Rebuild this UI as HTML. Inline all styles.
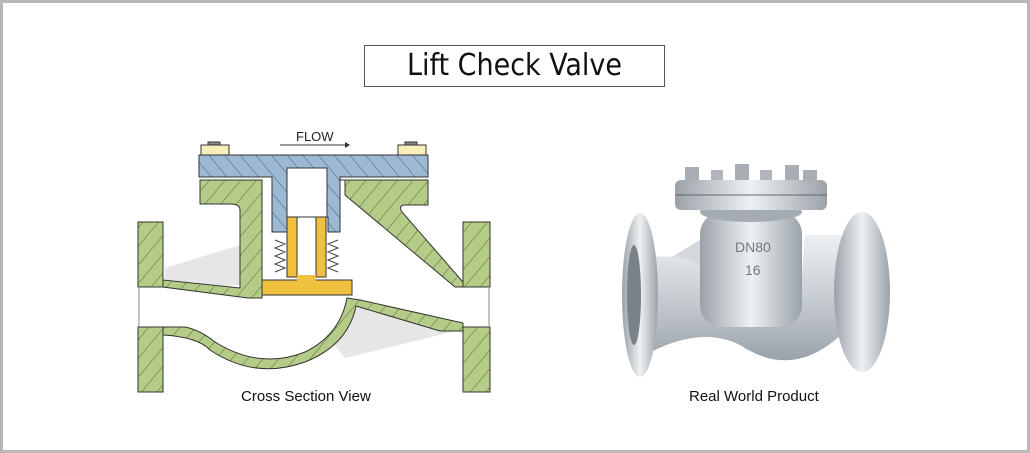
<!DOCTYPE html>
<html><head><style>
html,body{margin:0;padding:0;background:#fff}
.f{position:relative;width:1024px;height:447px;border:3px solid #b8b8b8;overflow:hidden;font-family:"Liberation Sans",sans-serif}
.t{position:absolute;left:361px;top:42px;width:299px;height:40px;border:1px solid #555;text-align:center;font-size:30px;line-height:40px;color:#111;font-family:"DejaVu Sans Condensed","Liberation Sans",sans-serif;font-weight:300}
.c{position:absolute;font-size:15px;color:#111}
</style></head><body><div class="f">
<div class="t">Lift Check Valve</div>
<div class="c" style="left:238px;top:385px">Cross Section View</div>
<div class="c" style="left:686px;top:385px">Real World Product</div>
<svg width="1024" height="447" style="position:absolute;left:0;top:0" viewBox="3 3 1024 447">
<defs>
<pattern id="h" width="12" height="12" patternUnits="userSpaceOnUse" patternTransform="rotate(40)"><rect width="12" height="12" fill="#b4cc88"/><line x1="0" y1="0" x2="0" y2="12" stroke="#556b30" stroke-width="1"/></pattern>
<pattern id="hb" width="12" height="12" patternUnits="userSpaceOnUse" patternTransform="rotate(-40)"><rect width="12" height="12" fill="#9db8d2"/><line x1="0" y1="0" x2="0" y2="12" stroke="#4a5f78" stroke-width="1"/></pattern>
<linearGradient id="m" x1="0" y1="0" x2="0" y2="1"><stop offset="0" stop-color="#eef1f3"/><stop offset=".5" stop-color="#c8cdd2"/><stop offset="1" stop-color="#9aa2a9"/></linearGradient>
<linearGradient id="mh" x1="0" y1="0" x2="1" y2="0"><stop offset="0" stop-color="#9aa2a9"/><stop offset=".5" stop-color="#eef1f3"/><stop offset="1" stop-color="#9aa2a9"/></linearGradient>
</defs>
<g stroke="#333" stroke-width="1">
<path d="M165 268 L240 245 L240 285 L165 288Z" fill="#e6e6e6" stroke="none"/>
<path d="M350 298 L460 330 L345 358 L330 340Z" fill="#e6e6e6" stroke="none"/>
<path d="M138 222 H163 V287 H138Z M138 327 H163 V392 H138Z" fill="url(#h)"/>
<path d="M463 222 H490 V287 H463Z M463 327 H490 V392 H463Z" fill="url(#h)"/>
<line x1="139" y1="287" x2="139" y2="327" stroke="#888"/><line x1="489" y1="287" x2="489" y2="327" stroke="#888"/>
<path d="M200 180 H262 V298 H248 L163 287 V280 L240 288 V210 Q240 204 230 204 H200Z" fill="url(#h)"/>
<path d="M340 180 H428 V205 H405 Q398 205 402 212 L463 282 V287 L455 287 L345 195 V180Z" fill="url(#h)"/>
<path d="M163 327 H185 Q200 330 215 342 Q260 370 305 352 Q340 335 347 298 L360 300 L463 323 V331 L440 331 L356 306 Q348 345 305 362 Q255 380 210 350 Q198 337 163 335Z" fill="url(#h)"/>
<path d="M199 155 H428 V177 H340 V232 H328 V217 H287 V232 H272 V177 H199Z" fill="url(#hb)"/>
<rect x="287" y="168" width="40" height="49" fill="#fff"/>
<rect x="201" y="145" width="28" height="10" fill="#f6eebb"/><rect x="398" y="145" width="28" height="10" fill="#f6eebb"/>
<rect x="208" y="142" width="12" height="3" fill="#888"/><rect x="405" y="142" width="12" height="3" fill="#888"/>
<rect x="287" y="217" width="10" height="60" fill="#f0c040"/><rect x="316" y="217" width="10" height="60" fill="#f0c040"/>
<rect x="262" y="280" width="90" height="15" fill="#f0c040"/>
<rect x="297" y="275" width="19" height="6" fill="#f0c040" stroke="none"/>
<path d="M275 240 l10 4 l-10 4 l10 4 l-10 4 l10 4 l-10 4 l10 4 l-10 4 M338 240 l-10 4 l10 4 l-10 4 l10 4 l-10 4 l10 4 l-10 4 l10 4" fill="none" stroke="#444"/>
</g>
<text x="296" y="141" font-size="13" font-family="Liberation Sans" fill="#222">FLOW</text>
<line x1="280" y1="145" x2="345" y2="145" stroke="#333"/><path d="M345 142 L350 145 L345 148Z" fill="#333"/>
<g>
<path d="M650 270 L700 240 L720 250 L670 290Z" fill="#d4d8dc"/>
<path d="M770 330 L800 305 L830 330 L790 340Z" fill="#d4d8dc"/>
<path d="M645 258 Q700 250 720 285 Q760 335 800 300 L805 235 L860 235 L855 320 Q800 385 740 345 Q700 325 645 355Z" fill="url(#m)"/>
<rect x="700" y="212" width="102" height="115" rx="22" fill="url(#mh)"/>
<ellipse cx="751" cy="212" rx="51" ry="10" fill="#a4abb2"/>
<rect x="675" y="180" width="152" height="30" rx="6" fill="url(#mh)"/>
<line x1="675" y1="195" x2="827" y2="195" stroke="#666"/>
<rect x="685" y="167" width="14" height="13" fill="#a8aeb4"/><rect x="711" y="170" width="12" height="10" fill="#b0b6bb"/><rect x="735" y="164" width="14" height="16" fill="#a8aeb4"/><rect x="760" y="170" width="12" height="10" fill="#b0b6bb"/><rect x="785" y="165" width="14" height="15" fill="#a8aeb4"/><rect x="803" y="170" width="14" height="11" fill="#a8aeb4"/>
<ellipse cx="640" cy="295" rx="18" ry="82" fill="url(#mh)"/>
<ellipse cx="634" cy="295" rx="7" ry="50" fill="#7a8288"/>
<ellipse cx="862" cy="292" rx="28" ry="80" fill="url(#mh)"/>
<text x="735" y="252" font-size="14" fill="#777">DN80</text>
<text x="745" y="275" font-size="14" fill="#777">16</text>
</g>
</svg>
</div></body></html>
